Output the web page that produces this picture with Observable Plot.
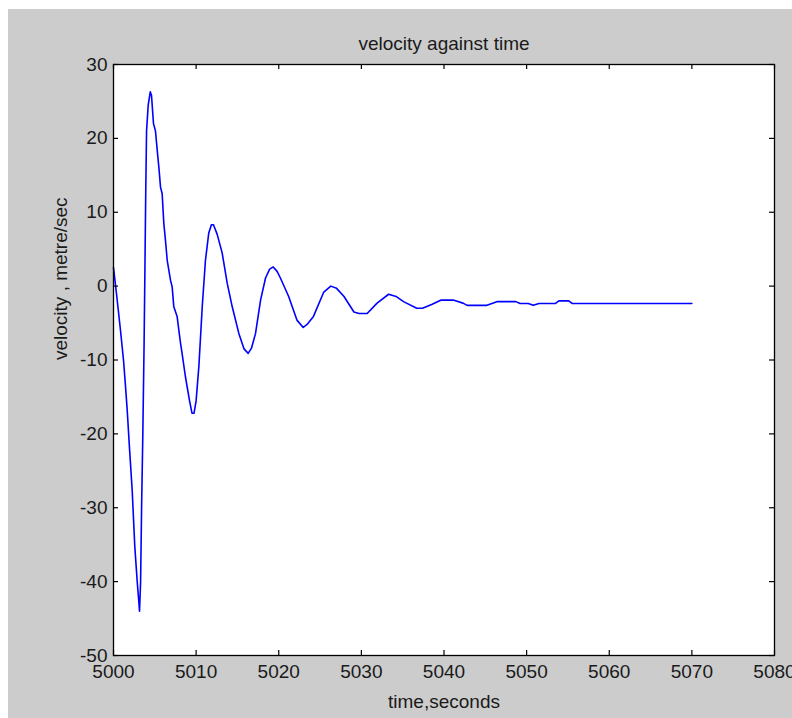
<!DOCTYPE html>
<html>
<head>
<meta charset="utf-8">
<script src="https://cdn.jsdelivr.net/npm/d3@7"></script>
<script src="https://cdn.jsdelivr.net/npm/@observablehq/plot@0.6"></script>
<style>
  html, body { margin: 0; padding: 0; background: #ffffff; }
  #wrap { padding-left: 8px; padding-top: 9px; width: 784px; height: 709px; }
  #wrap svg { display: block; }
</style>
</head>
<body>
<div id="wrap"></div>
<script>
const titleText = "velocity against time";
const xLabelText = "time,seconds";
const yLabelText = "velocity , metre/sec";

const xTicks = [5000, 5010, 5020, 5030, 5040, 5050, 5060, 5070, 5080];
const yTicks = [-50, -40, -30, -20, -10, 0, 10, 20, 30];

const timeSec = [
  5000, 5000.36, 5000.8, 5001.21, 5001.45, 5001.66, 5001.94, 5002.26, 5002.58, 5002.87,
  5003.05, 5003.15, 5003.28, 5003.4, 5003.55, 5003.7, 5003.8, 5003.9, 5004.0, 5004.2,
  5004.45, 5004.6, 5004.84, 5005.08, 5005.29, 5005.49, 5005.69, 5005.89, 5006.09, 5006.29,
  5006.5, 5006.9, 5007.1, 5007.3, 5007.7, 5007.9, 5008.11, 5008.3, 5008.71, 5009.2,
  5009.5, 5009.75, 5010.0, 5010.33, 5010.74, 5011.13, 5011.53, 5011.85, 5012.1, 5012.55,
  5013.15, 5013.76, 5014.37, 5015.17, 5015.8, 5016.3, 5016.7, 5017.19, 5017.8, 5018.4,
  5018.9, 5019.33, 5019.8, 5020.2, 5021.2, 5022.2, 5022.96, 5023.5, 5024.2, 5025.45,
  5026.3, 5027.0, 5027.9, 5029.1, 5029.7, 5030.7, 5031.9, 5033.3, 5034.2, 5035.1,
  5036.7, 5037.4, 5038.5, 5039.6, 5041.2, 5042.3, 5042.8, 5045.2, 5046.4, 5048.7,
  5049.2, 5050.2, 5050.8, 5051.5, 5053.5, 5053.9, 5055.1, 5055.5, 5070
];
const velocity = [
  2.5, -1, -5.5, -10, -13.5, -16.8, -22, -27.6, -35.3, -40,
  -42.5, -44, -40, -30, -20, -8, 2, 12.5, 21, 24.5,
  26.3, 25.8, 22, 21, 18.4, 16.1, 13.4, 12.5, 8.5, 6.2,
  3.5, 0.8, -0.1, -2.8, -4.1, -5.9, -7.7, -9.1, -12.3, -15.5,
  -17.2, -17.2, -15.5, -10.9, -2.8, 3.5, 7.2, 8.3, 8.3, 7,
  4.5, 0.4, -2.8, -6.4, -8.5, -9.1, -8.4, -6.4, -1.9, 1.1,
  2.3, 2.6, 2.0, 1.1, -1.4, -4.6, -5.6, -5.1, -4.1, -0.8,
  0, -0.3, -1.4, -3.5, -3.7, -3.7, -2.3, -1.1, -1.4, -2.1,
  -3, -3.0, -2.5, -1.9, -1.9, -2.3, -2.6, -2.6, -2.1, -2.1,
  -2.35, -2.35, -2.6, -2.35, -2.35, -2.0, -2.0, -2.35, -2.35
];

const series = timeSec.map((t, i) => ({t, v: velocity[i]}));

const W = 784, H = 709;
const mL = 105, mR = 18, mT = 55, mB = 63;
const innerW = W - mL - mR, innerH = H - mT - mB;
const tickLen = 5;
const plain = d => String(d);

const chart = Plot.plot({
  width: W,
  height: H,
  marginLeft: mL,
  marginRight: mR,
  marginTop: mT,
  marginBottom: mB,
  style: {
    background: "#cccccc",
    fontFamily: "'Liberation Sans', Arial, sans-serif",
    fontSize: "19px",
    color: "#1a1a1a",
    overflow: "visible"
  },
  x: {domain: [5000, 5080]},
  y: {domain: [-50, 30]},
  marks: [
    Plot.frame({fill: "#ffffff", stroke: "none"}),
    Plot.line(series, {x: "t", y: "v", stroke: "#0000ff", strokeWidth: 1.6}),
    Plot.tickX(xTicks, {x: d => d, insetTop: innerH - tickLen, stroke: "#000", strokeWidth: 1.2}),
    Plot.tickX(xTicks, {x: d => d, insetBottom: innerH - tickLen, stroke: "#000", strokeWidth: 1.2}),
    Plot.tickY(yTicks, {y: d => d, insetRight: innerW - tickLen, stroke: "#000", strokeWidth: 1.2}),
    Plot.tickY(yTicks, {y: d => d, insetLeft: innerW - tickLen, stroke: "#000", strokeWidth: 1.2}),
    Plot.frame({stroke: "#000", strokeWidth: 1.3}),
    Plot.axisX({ticks: xTicks, tickSize: 0, tickPadding: 9, label: null, fontSize: 19, tickFormat: plain}),
    Plot.axisY({ticks: yTicks, tickSize: 0, tickPadding: 6, label: null, fontSize: 19, tickFormat: plain}),
    Plot.text([titleText], {frameAnchor: "top", dy: -15, fontSize: 19, lineAnchor: "bottom"}),
    Plot.text([xLabelText], {frameAnchor: "bottom", dy: 52, fontSize: 19}),
    Plot.text([yLabelText], {frameAnchor: "left", dx: -53, rotate: -90, fontSize: 19})
  ]
});

document.getElementById("wrap").appendChild(chart);
</script>
</body>
</html>
